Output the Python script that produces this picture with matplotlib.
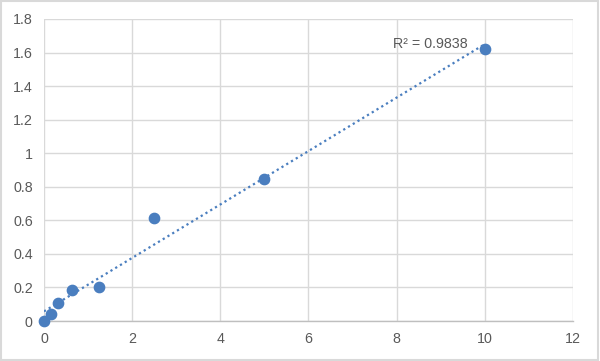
import matplotlib.pyplot as plt
import numpy as np
from matplotlib.patches import Rectangle

# valores
conc = [0, 0.156, 0.3125, 0.625, 1.25, 2.5, 5, 10]
od = [0.0, 0.04, 0.11, 0.185, 0.205, 0.615, 0.845, 1.62]
xticks = [0, 2, 4, 6, 8, 10, 12]
yticks = [0, 0.2, 0.4, 0.6, 0.8, 1, 1.2, 1.4, 1.6, 1.8]
r2_texto = "R² = 0.9838"  # tal como aparece en la imagen

azul = "#4a7ebf"
gris_txt = "#595959"

fig = plt.figure(figsize=(6, 3.61), dpi=100)
ax = fig.add_axes([0.0733, 0.1108, 0.8817, 0.8366])

# recta de ajuste lineal
x = np.array(conc)
y = np.array(od)
m, b = np.polyfit(x, y, 1)
xr = np.linspace(0, 10, 50)
ax.plot(xr, m * xr + b, linestyle=(0, (1, 1.5)), color=azul, linewidth=1.6, zorder=2)

ax.scatter(conc, od, s=55, color=azul, zorder=3, clip_on=False)

ax.text(9.62, 1.65, r2_texto, ha="right", va="center", fontsize=10.3,
        color=gris_txt, family="Liberation Sans")

ax.set_xlim(0, 12)
ax.set_ylim(0, 1.8)
ax.set_xticks(xticks)
ax.set_xticklabels([str(t) for t in xticks])
ax.set_yticks(yticks)
ax.set_yticklabels([f"{t:g}" for t in yticks])
ax.grid(True, color="#d9d9d9", linewidth=1)
ax.set_axisbelow(True)
for s in ["top", "right", "left"]:
    ax.spines[s].set_visible(False)
ax.spines["bottom"].set_color("#bfbfbf")
ax.spines["bottom"].set_linewidth(1)
ax.tick_params(length=0, labelsize=10.3, labelcolor=gris_txt, pad=8)
for lab in ax.get_xticklabels() + ax.get_yticklabels():
    lab.set_family("Liberation Sans")

# borde exterior del grafico
fig.patches.append(Rectangle((0.002, 0.003), 0.995, 0.993, transform=fig.transFigure,
                             fill=False, edgecolor="#d9d9d9", linewidth=1.5))

fig.savefig("out.png", dpi=100)
